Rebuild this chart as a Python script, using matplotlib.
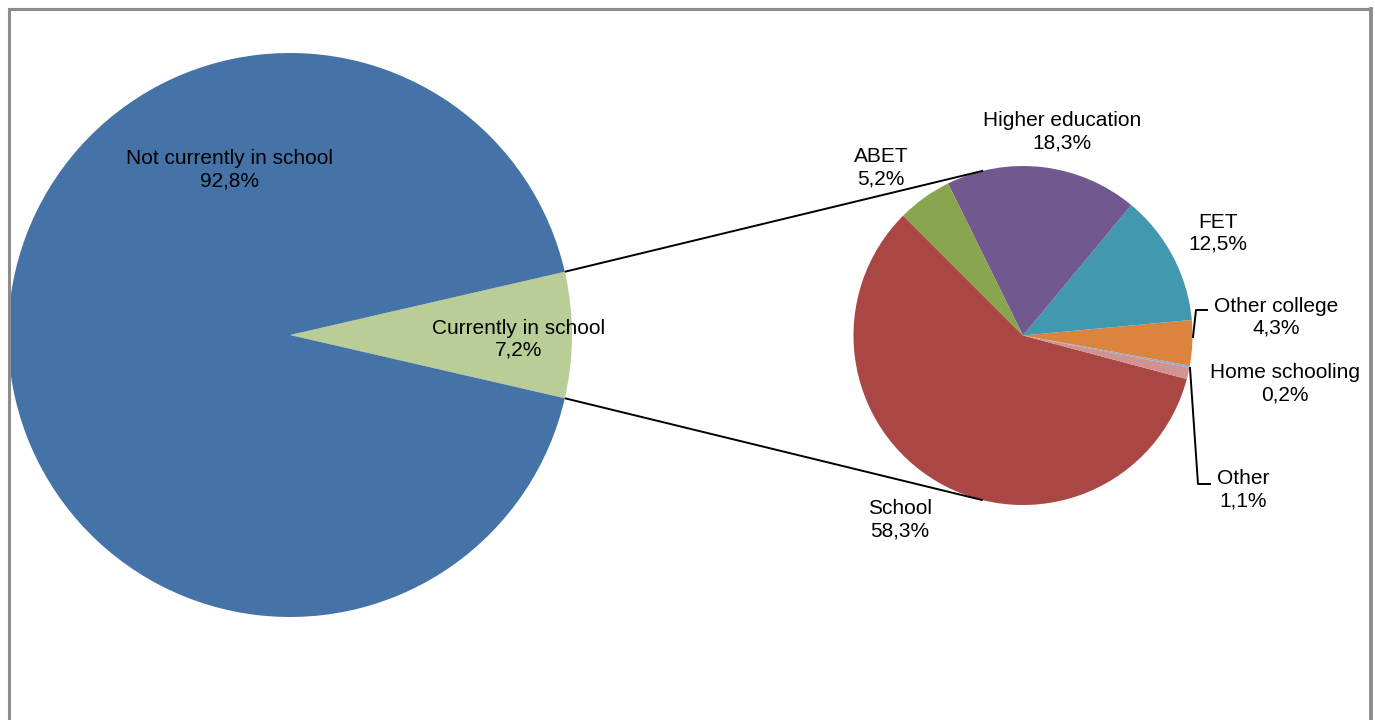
import numpy as np
import matplotlib
matplotlib.use("Agg")
import matplotlib.pyplot as plt
from matplotlib.lines import Line2D

plt.rcParams['font.family'] = ['Liberation Sans', 'DejaVu Sans']

# Main split
main_labels = ["Not currently in school", "Currently in school"]
main_values = [92.8, 7.2]
main_colors = ["#4572A7", "#B9CD96"]

# Breakdown of those currently in school
sub_labels = ["School", "Other", "Home schooling", "Other college", "FET",
              "Higher education", "ABET"]
sub_values = [58.3, 1.1, 0.2, 4.3, 12.5, 18.3, 5.2]
sub_colors = ["#AA4643", "#D19392", "#93A9CF", "#DB843D", "#4198AF",
              "#71588F", "#89A54E"]

W, H = 1375, 720
fig = plt.figure(figsize=(W / 100, H / 100), dpi=100)
ax = fig.add_axes([0, 0, 1, 1])
ax.set_xlim(0, W)
ax.set_ylim(0, H)
ax.set_aspect("equal")
ax.axis("off")

# geometry in pixel-like coordinates (y measured upward)
big_c = (290, H - 335)
big_r = 282
small_c = (1023, H - 335.5)
small_r = 169.5

big_start = -main_values[1] / 100 * 360 / 2
ax.pie(main_values[::-1], colors=main_colors[::-1], startangle=big_start,
       counterclock=True, center=big_c, radius=big_r,
       wedgeprops=dict(linewidth=0))
ax.pie(sub_values, colors=sub_colors, startangle=135, counterclock=True,
       center=small_c, radius=small_r, wedgeprops=dict(linewidth=0))
ax.set_xlim(0, W)
ax.set_ylim(0, H)

# connector lines: from slice corners, tangent to the second pie
half = np.deg2rad(main_values[1] / 100 * 360 / 2)
for sgn in (1, -1):
    p = np.array([big_c[0] + big_r * np.cos(half), big_c[1] + sgn * big_r * np.sin(half)])
    v = p - np.array(small_c)
    d = np.hypot(*v)
    base = np.arctan2(v[1], v[0])
    t = base - sgn * np.arccos(small_r / d)
    q = np.array(small_c) + small_r * np.array([np.cos(t), np.sin(t)])
    ax.plot([p[0], q[0]], [p[1], q[1]], color="black", lw=1.4, solid_capstyle="butt")

fs = 15
def lab(x, y, s):
    ax.text(x, H - y, s, ha="center", va="center", fontsize=fs,
            linespacing=1.2, color="black")

lab(230, 170, "Not currently in school\n92,8%")
lab(519, 339, "Currently in school\n7,2%")
lab(1062, 132, "Higher education\n18,3%")
lab(881, 168, "ABET\n5,2%")
lab(1218, 233, "FET\n12,5%")
lab(1276, 317, "Other college\n4,3%")
lab(1285, 384, "Home schooling\n0,2%")
lab(1243, 490, "Other\n1,1%")
lab(900, 520, "School\n58,3%")

# leader lines
ax.plot([1193, 1196, 1207], [H - 337, H - 310, H - 310], color="black", lw=1.4)
ax.plot([1190, 1198, 1210], [H - 368, H - 484, H - 484], color="black", lw=1.4)

# chart frame
frame_kw = dict(color="#8C8C8C", lw=2.2, transform=fig.transFigure)
x0, x1, y0 = 8.5 / W, 1371 / W, 1 - 8.5 / H
fig.add_artist(Line2D([x0, x1], [y0, y0], **frame_kw))
fig.add_artist(Line2D([x0, x0], [y0, 0], **frame_kw))
fig.add_artist(Line2D([x1, x1], [y0, 0], color="#8C8C8C", lw=2.8, transform=fig.transFigure))

fig.savefig("out.png", dpi=100, facecolor="white")
